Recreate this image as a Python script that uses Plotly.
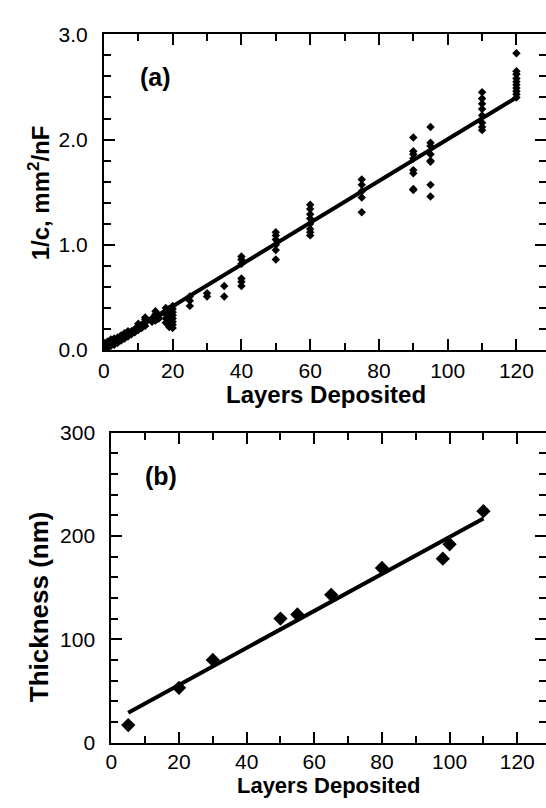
import plotly.graph_objects as go

# ---------------- Panel (a) data ----------------
a_layers = [0, 1, 2, 3, 4, 5, 6, 7, 8, 9, 10, 11, 12, 14, 15, 16, 18, 19, 20,
            25, 30, 35, 40, 50, 60, 75, 90, 95, 110, 120]
a_values = [
    [0.01, 0.03, 0.05, 0.07],
    [0.02, 0.05, 0.08],
    [0.04, 0.07, 0.10],
    [0.05, 0.08, 0.11],
    [0.07, 0.10, 0.12],
    [0.09, 0.12, 0.14],
    [0.11, 0.14, 0.16],
    [0.13, 0.16, 0.18],
    [0.15, 0.18],
    [0.17, 0.20],
    [0.19, 0.22, 0.25],
    [0.21, 0.24],
    [0.23, 0.26, 0.29, 0.31],
    [0.27, 0.30],
    [0.28, 0.31, 0.34, 0.37],
    [0.30, 0.33],
    [0.26, 0.30, 0.34, 0.37, 0.40],
    [0.22, 0.27, 0.31, 0.35, 0.39],
    [0.21, 0.24, 0.27, 0.30, 0.33, 0.36, 0.39, 0.42],
    [0.42, 0.47, 0.51],
    [0.51, 0.54],
    [0.51, 0.61],
    [0.61, 0.65, 0.68, 0.82, 0.86, 0.89],
    [0.86, 0.95, 1.00, 1.05, 1.09, 1.12],
    [1.09, 1.12, 1.15, 1.20, 1.25, 1.29, 1.34, 1.38],
    [1.31, 1.45, 1.51, 1.57, 1.62],
    [1.52, 1.53, 1.68, 1.71, 1.82, 1.86, 1.89, 2.02],
    [1.46, 1.57, 1.79, 1.80, 1.86, 1.94, 1.97, 2.12],
    [2.09, 2.12, 2.16, 2.23, 2.29, 2.34, 2.39, 2.45],
    [2.40, 2.43, 2.46, 2.49, 2.52, 2.55, 2.58, 2.62, 2.65, 2.82],
]
a_fit_x = [0, 120]
a_fit_y = [0.02, 2.40]

# ---------------- Panel (b) data ----------------
b_layers = [5, 20, 30, 50, 55, 65, 80, 98, 100, 110]
b_thickness = [17, 53, 80, 120, 124, 143, 169, 178, 192, 224]
b_fit_x = [5, 110]
b_fit_y = [29, 217]

# labels
x_title = "Layers Deposited"
a_y_title = "1/c, mm<sup>2</sup>/nF"
b_y_title = "Thickness (nm)"

a_x = [x for x, vals in zip(a_layers, a_values) for _ in vals]
a_y = [v for vals in a_values for v in vals]

W, H = 546, 808
FONT = "Liberation Sans, Arial, Helvetica, sans-serif"

fig = go.Figure()

fig.add_trace(go.Scatter(x=a_x, y=a_y, mode="markers", xaxis="x", yaxis="y",
                         marker=dict(symbol="diamond", size=6.5, color="black"),
                         showlegend=False))
fig.add_trace(go.Scatter(x=a_fit_x, y=a_fit_y, mode="lines", xaxis="x", yaxis="y3",
                         line=dict(color="black", width=4), showlegend=False))
fig.add_trace(go.Scatter(x=b_layers, y=b_thickness, mode="markers", xaxis="x2", yaxis="y2",
                         marker=dict(symbol="diamond", size=11, color="black"),
                         showlegend=False))
fig.add_trace(go.Scatter(x=b_fit_x, y=b_fit_y, mode="lines", xaxis="x2", yaxis="y4",
                         line=dict(color="black", width=4), showlegend=False))

tickfont = dict(family=FONT, size=21, color="black")


def xax(domain, anchor, rng, standoff):
    return dict(domain=domain, anchor=anchor, range=rng, showline=True, linewidth=2,
                linecolor="black", mirror="ticks", ticks="inside", ticklen=11,
                tickwidth=2, tickcolor="black", tick0=0, dtick=20,
                minor=dict(dtick=10, tick0=0, ticks="inside", ticklen=7, tickwidth=2,
                           tickcolor="black", showgrid=False),
                showgrid=False, zeroline=False, tickfont=tickfont,
                ticklabelstandoff=standoff)


def yax(domain, anchor, rng, dtick, mdtick, fmt):
    return dict(domain=domain, anchor=anchor, range=rng, showline=True, linewidth=2,
                linecolor="black", mirror=False, ticks="inside", ticklen=11,
                tickwidth=2, tickcolor="black", tick0=0, dtick=dtick, tickformat=fmt,
                minor=dict(dtick=mdtick, tick0=0, ticks="inside", ticklen=7, tickwidth=2,
                           tickcolor="black", showgrid=False),
                showgrid=False, zeroline=False, tickfont=tickfont, ticklabelstandoff=10)


def yright(overlay, anchor, rng, dtick, mdtick):
    return dict(overlaying=overlay, side="right", anchor=anchor, range=rng,
                showline=False, ticks="inside", ticklen=11, tickwidth=2,
                tickcolor="black", tick0=0, dtick=dtick, showticklabels=False,
                minor=dict(dtick=mdtick, tick0=0, ticks="inside", ticklen=7, tickwidth=2,
                           tickcolor="black", showgrid=False),
                showgrid=False, zeroline=False)


a_dom_x = [99 / W, 1]
a_dom_y = [(H - 348) / H, (H - 23) / H]
b_dom_x = [106.5 / W, 1]
b_dom_y = [(H - 752) / H, (H - 433) / H]

xaxis2 = xax(b_dom_x, "y2", [0, 128.5], -1)
xaxis2["title"] = dict(text=x_title, standoff=0,
                       font=dict(family=FONT, size=22, color="black", weight="bold"))

fig.update_layout(
    width=W, height=H, margin=dict(l=0, r=0, t=0, b=0),
    paper_bgcolor="white", plot_bgcolor="white",
    xaxis=xax(a_dom_x, "y", [0, 128.6], 1),
    yaxis=yax(a_dom_y, "x", [0, 3.0], 1, 0.2, ".1f"),
    yaxis3=yright("y", "x", [0, 3.0], 1, 0.2),
    xaxis2=xaxis2,
    yaxis2=yax(b_dom_y, "x2", [0, 300], 100, 20, "d"),
    yaxis4=yright("y2", "x2", [0, 300], 100, 20),
    font=dict(family=FONT, color="black"),
)

title_font = dict(family=FONT, size=24, color="black", weight="bold")
label_font = dict(family=FONT, size=25, color="black", weight="bold")
ann = [
    dict(text="(a)", x=151 / W, y=(H - 66.5) / H, yanchor="middle", font=label_font),
    dict(text="(b)", x=157 / W, y=(H - 477.5) / H, yanchor="middle", font=label_font),
    dict(text=x_title, x=324 / W, y=(H - 394) / H, yanchor="middle", font=title_font),
    dict(text=a_y_title, x=33 / W, y=(H - 186) / H, yanchor="middle", textangle=-90,
         font=title_font),
    dict(text=b_y_title, x=33 / W, y=(H - 612) / H, yanchor="middle", textangle=-90,
         font=dict(family=FONT, size=26, color="black", weight="bold")),
]
for a in ann:
    a.update(xref="paper", yref="paper", showarrow=False, xanchor="center", borderpad=0)
fig.update_layout(annotations=ann)

fig.write_html("out.html")
